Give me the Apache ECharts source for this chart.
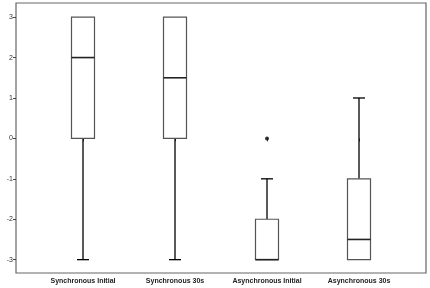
<!DOCTYPE html>
<html>
<head>
<meta charset="utf-8">
<script src="https://cdn.jsdelivr.net/npm/echarts@6/dist/echarts.min.js"></script>
<style>
  html, body { margin: 0; padding: 0; background: #fff; }
  #chart { width: 430px; height: 288px; }
</style>
</head>
<body>
<div id="chart"></div>
<script>
// categories and box stats (min, q1, median, q3, max)
var categories = ['Synchronous Initial', 'Synchronous 30s', 'Asynchronous Initial', 'Asynchronous 30s'];
var mins    = [-3, -3, -3, -3];
var q1s     = [0, 0, -3, -3];
var medians = [2, 1.5, -3, -2.5];
var q3s     = [3, 3, -2, -1];
var maxs    = [3, 3, -1, 1];
// outliers: [category index, value]
var outliers = [[2, 0]];
var yTicks = [-3, -2, -1, 0, 1, 2, 3];

var boxData = [];
for (var i = 0; i < categories.length; i++) {
  boxData.push([i, mins[i], q1s[i], medians[i], q3s[i], maxs[i]]);
}

function renderBox(params, api) {
  var x = api.value(0);
  var lo = api.coord([x, api.value(1)]);
  var b = api.coord([x, api.value(2)]);
  var m = api.coord([x, api.value(3)]);
  var t = api.coord([x, api.value(4)]);
  var hi = api.coord([x, api.value(5)]);
  var band = api.size([1, 0])[0];
  var bw = band * 0.25;
  var cw = 12;
  var cx = lo[0];
  var whisk = { stroke: '#000', lineWidth: 1.3 };
  var kids = [];
  if (hi[1] < t[1]) {
    kids.push({ type: 'line', shape: { x1: cx, y1: t[1], x2: cx, y2: hi[1] }, style: whisk });
    kids.push({ type: 'line', shape: { x1: cx - cw / 2, y1: hi[1], x2: cx + cw / 2, y2: hi[1] }, style: whisk });
  }
  if (lo[1] > b[1]) {
    kids.push({ type: 'line', shape: { x1: cx, y1: b[1], x2: cx, y2: lo[1] }, style: whisk });
    kids.push({ type: 'line', shape: { x1: cx - cw / 2, y1: lo[1], x2: cx + cw / 2, y2: lo[1] }, style: whisk });
  }
  kids.push({ type: 'rect', shape: { x: cx - bw / 2, y: t[1], width: bw, height: b[1] - t[1] },
    style: { fill: '#fff', stroke: '#555', lineWidth: 1.2 } });
  kids.push({ type: 'line', shape: { x1: cx - bw / 2, y1: m[1], x2: cx + bw / 2, y2: m[1] },
    style: { stroke: '#222', lineWidth: 1.6 } });
  return { type: 'group', children: kids };
}

var chart = echarts.init(document.getElementById('chart'));
var option = {
  animation: false,
  backgroundColor: '#fff',
  textStyle: { fontFamily: 'Liberation Sans, Arial, sans-serif' },
  grid: [
    // outer frame
    { left: 16, right: 4, top: 3, bottom: 15, show: true, borderColor: '#666', borderWidth: 1.2,
      backgroundColor: 'transparent', outerBoundsMode: 'none', containLabel: false },
    // plotting area
    { left: 37, right: 25, top: 3, bottom: 15, outerBoundsMode: 'none', containLabel: false }
  ],
  xAxis: [
    { gridIndex: 0, type: 'value', show: false },
    {
      gridIndex: 1,
      type: 'category',
      data: categories,
      axisLine: { show: false },
      axisTick: { show: true, alignWithLabel: true, length: 3, lineStyle: { color: '#444' } },
      axisLabel: { color: '#222', fontSize: 7, fontWeight: 'bold', margin: 5, interval: 0 },
      splitLine: { show: false }
    }
  ],
  yAxis: [
    { gridIndex: 0, type: 'value', show: false },
    {
      gridIndex: 1,
      type: 'value',
      min: -3.33,
      max: 3.35,
      offset: 21,
      name: 'Scores',
      nameLocation: 'middle',
      nameRotate: 90,
      nameGap: 11,
      nameTextStyle: { fontSize: 7, fontWeight: 'bold', color: '#222' },
      axisLine: { show: false },
      axisTick: { show: true, customValues: yTicks, length: 3, lineStyle: { color: '#444' } },
      axisLabel: { customValues: yTicks, fontSize: 7, color: '#333', margin: 3 },
      splitLine: { show: false }
    }
  ],
  series: [
    {
      type: 'custom',
      xAxisIndex: 1,
      yAxisIndex: 1,
      data: boxData,
      renderItem: renderBox,
      encode: { x: 0, y: [1, 2, 3, 4, 5] }
    },
    {
      type: 'scatter',
      xAxisIndex: 1,
      yAxisIndex: 1,
      data: outliers,
      symbol: 'circle',
      symbolSize: 4,
      itemStyle: { color: '#000' }
    }
  ]
};
chart.setOption(option);
</script>
</body>
</html>
